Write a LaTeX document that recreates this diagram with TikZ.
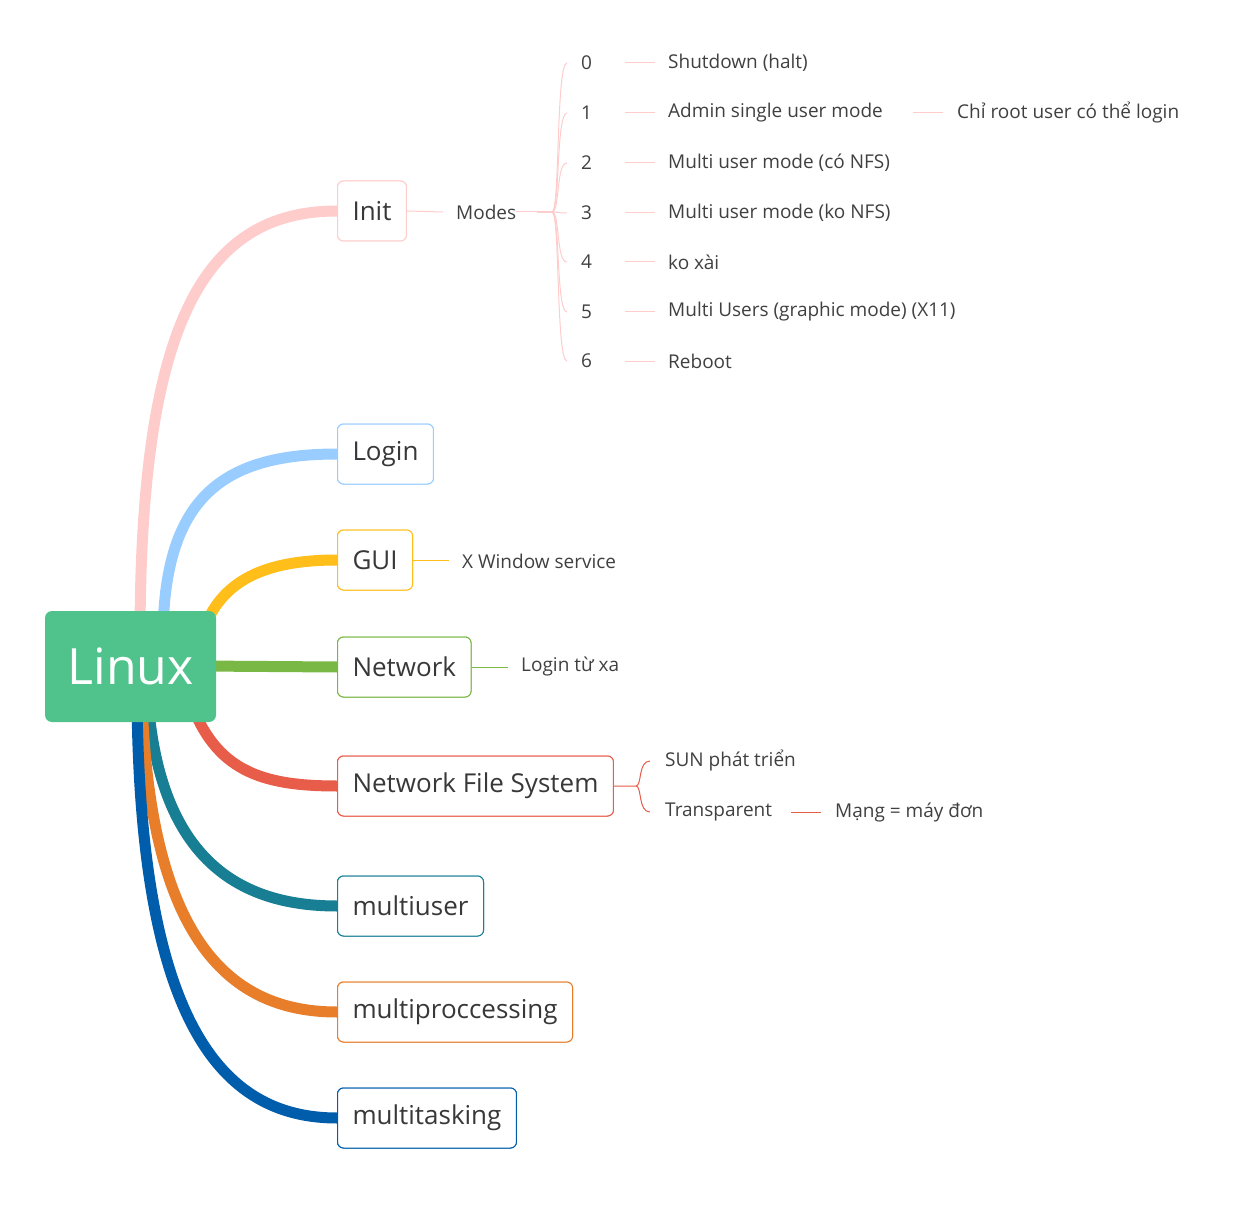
\documentclass[tikz,border=0pt]{standalone}
\usepackage{fontspec}
\setmainfont{Open Sans}
\begin{document}
\begin{tikzpicture}[x=1pt,y=-1pt,
  br/.style={line width=11pt,line cap=butt},
  topic/.style={draw,rounded corners=6pt,line width=1pt,minimum height=60pt,inner xsep=15pt,anchor=west,font=\fontsize{26}{30}\selectfont,text=black!78,fill=white},
  sub/.style={anchor=west,font=\fontsize{19}{23}\selectfont,text=black!75,inner sep=0pt},
  thin/.style={line width=1pt}]
\definecolor{cinit}{HTML}{FFCCCC}
\definecolor{clogin}{HTML}{99CCFF}
\definecolor{cgui}{HTML}{FFBE1A}
\definecolor{cnet}{HTML}{7AB845}
\definecolor{cnfs}{HTML}{E85C4A}
\definecolor{cmu}{HTML}{177E94}
\definecolor{cmp}{HTML}{E87D2A}
\definecolor{cmt}{HTML}{005DAB}
\useasboundingbox (0,0) rectangle (1254,1209);
% branches
\coordinate (s1) at (140,640); \coordinate (s2) at (163,640); \coordinate (s3) at (200,640);
\coordinate (s4) at (200,666); \coordinate (s5) at (190,700); \coordinate (s6) at (148,700);
\coordinate (s7) at (142,700); \coordinate (s8) at (137,700);
\node[topic,draw=cinit] (init) at (337,211) {Init};
\node[topic,draw=clogin] (login) at (337,454) {Login};
\node[topic,draw=cgui] (gui) at (337,560) {GUI};
\node[topic,draw=cnet] (net) at (337,667) {Network};
\node[topic,draw=cnfs] (nfs) at (337,786) {Network File System};
\node[topic,draw=cmu] (mu) at (337,906) {multiuser};
\node[topic,draw=cmp] (mp) at (337,1012) {multiproccessing};
\node[topic,draw=cmt] (mt) at (337,1118) {multitasking};
\begin{scope}[on background layer/.style={}]
\draw[br,cinit] (s1) .. controls (140,330) and (200,211) .. (init.west);
\draw[br,clogin] (s2) .. controls (163,500) and (220,454) .. (login.west);
\draw[br,cgui] (s3) .. controls (215,590) and (250,560) .. (gui.west);
\draw[br,cnet] (s4) -- (net.west);
\draw[br,cnfs] (s5) .. controls (215,770) and (260,786) .. (nfs.west);
\draw[br,cmu] (s6) .. controls (160,860) and (240,906) .. (mu.west);
\draw[br,cmp] (s7) .. controls (150,940) and (230,1012) .. (mp.west);
\draw[br,cmt] (s8) .. controls (140,1020) and (220,1118) .. (mt.west);
\end{scope}
% redraw topic nodes over branch ends
\node[topic,draw=cinit] at (337,211) {Init};
\node[topic,draw=clogin] at (337,454) {Login};
\node[topic,draw=cgui] at (337,560) {GUI};
\node[topic,draw=cnet] at (337,667) {Network};
\node[topic,draw=cnfs] at (337,786) {Network File System};
\node[topic,draw=cmu] at (337,906) {multiuser};
\node[topic,draw=cmp] at (337,1012) {multiproccessing};
\node[topic,draw=cmt] at (337,1118) {multitasking};
\node[fill={rgb,255:red,79;green,195;blue,139},rounded corners=7pt,minimum width=171pt,minimum height=111pt,text=white,font=\fontsize{50}{56}\selectfont] (linux) at (130.5,666.5) {Linux};
% Init children
\node[sub] (modes) at (456,212) {Modes};
\draw[thin,cinit] (init.east) -- (modes.west -| 443,0);
\coordinate (mb) at (537,212);
\draw[thin,cinit] (modes.east) ++(0,0) -- (mb);
\foreach \n/\y/\t in {0/63/Shutdown (halt),1/113/Admin single user mode,2/163/Multi user mode (có NFS),3/213/Multi user mode (ko NFS),4/262/ko xài,5/312/Multi Users (graphic mode) (X11),6/361/Reboot}{
  \node[sub] (m\n) at (581,\y) {\n};
  \node[sub] (t\n) at (668,\y) {\t};
  \draw[thin,cinit] (mb) -- (552,212) .. controls (560,212) and (556,\y) .. (567,\y);
  \draw[thin,cinit] (625,\y) -- (655,\y);
}
\node[sub] (root) at (957,113) {Chỉ root user có thể login};
\draw[thin,cinit] (913,113) -- (943,113);
% GUI
\node[sub] (xw) at (462,561) {X Window service};
\draw[thin,cgui] (gui.east) -- (449,560);
% Network
\node[sub] (lx) at (521,667) {Login từ xa};
\draw[thin,cnet] (net.east) -- (508,667);
% NFS
\node[sub] (sun) at (665,761) {SUN phát triển};
\node[sub] (tr) at (665,812) {Transparent};
\node[sub] (mang) at (835,812) {Mạng = máy đơn};
\draw[thin,cnfs] (nfs.east) -- (636,786) .. controls (642,786) and (638,761) .. (650,761);
\draw[thin,cnfs] (636,786) .. controls (642,786) and (638,812) .. (650,812);
\draw[thin,cnfs] (791,812) -- (821,812);
\end{tikzpicture}
\end{document}
